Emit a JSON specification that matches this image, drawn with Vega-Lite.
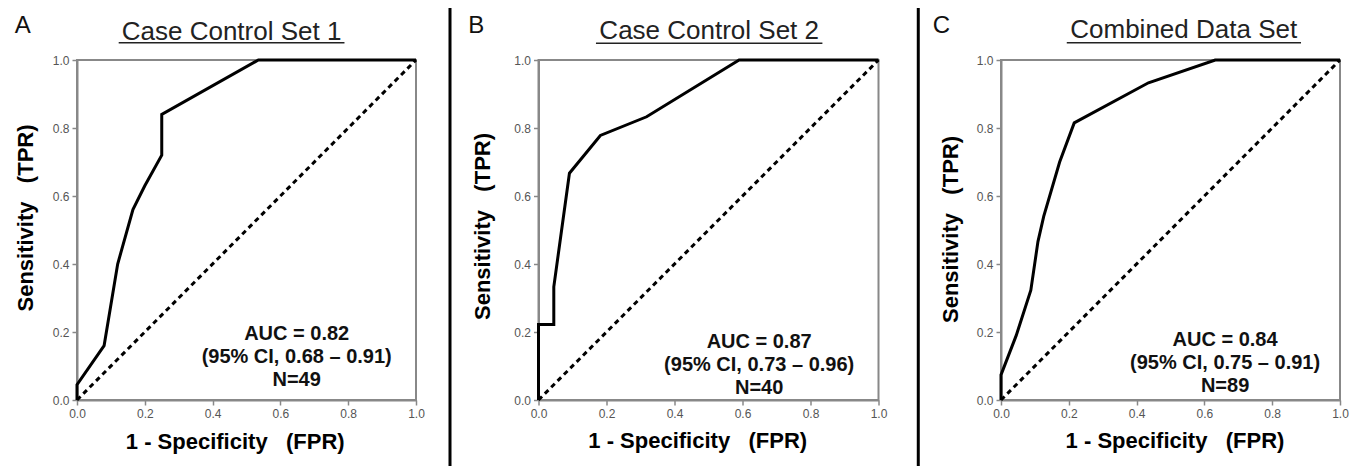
{
  "$schema": "https://vega.github.io/schema/vega-lite/v6.json",
  "background": "white",
  "padding": {"left": 13, "top": 5, "right": 0, "bottom": 0},
  "spacing": 122.5,
  "bounds": "flush",
  "config": {
    "font": "Liberation Sans",
    "view": {"stroke": "#888", "strokeWidth": 2},
    "axis": {"domainColor": "#888", "domainWidth": 2, "tickColor": "#888", "tickWidth": 1.5, "tickSize": 5, "labelFontSize": 12, "labelColor": "#555", "labelFont": "Liberation Sans", "titleFont": "Liberation Sans", "titleFontSize": 22, "titleFontWeight": "bold", "titleColor": "black", "grid": false, "labelPadding": 3, "labelFlush": false, "labelOverlap": false}
  },
  "datasets": {
    "rocA": [
      {"step": 0, "fpr": 0, "tpr": 0}, {"step": 1, "fpr": 0, "tpr": 0.045}, {"step": 2, "fpr": 0.08, "tpr": 0.16}, {"step": 3, "fpr": 0.12, "tpr": 0.4}, {"step": 4, "fpr": 0.165, "tpr": 0.56}, {"step": 5, "fpr": 0.2, "tpr": 0.63}, {"step": 6, "fpr": 0.25, "tpr": 0.72}, {"step": 7, "fpr": 0.25, "tpr": 0.84}, {"step": 8, "fpr": 0.535, "tpr": 1.0}, {"step": 9, "fpr": 1, "tpr": 1}
    ],
    "rocB": [
      {"step": 0, "fpr": 0, "tpr": 0}, {"step": 1, "fpr": 0, "tpr": 0.222}, {"step": 2, "fpr": 0.045, "tpr": 0.222}, {"step": 3, "fpr": 0.045, "tpr": 0.333}, {"step": 4, "fpr": 0.091, "tpr": 0.667}, {"step": 5, "fpr": 0.182, "tpr": 0.778}, {"step": 6, "fpr": 0.318, "tpr": 0.833}, {"step": 7, "fpr": 0.59, "tpr": 1.0}, {"step": 8, "fpr": 1, "tpr": 1}
    ],
    "rocC": [
      {"step": 0, "fpr": 0, "tpr": 0}, {"step": 1, "fpr": 0, "tpr": 0.074}, {"step": 2, "fpr": 0.045, "tpr": 0.19}, {"step": 3, "fpr": 0.088, "tpr": 0.323}, {"step": 4, "fpr": 0.109, "tpr": 0.466}, {"step": 5, "fpr": 0.126, "tpr": 0.54}, {"step": 6, "fpr": 0.173, "tpr": 0.7}, {"step": 7, "fpr": 0.216, "tpr": 0.815}, {"step": 8, "fpr": 0.435, "tpr": 0.933}, {"step": 9, "fpr": 0.632, "tpr": 1.0}, {"step": 10, "fpr": 1, "tpr": 1}
    ]
  },
  "hconcat": [
    {
      "width": 339, "height": 340,
      "layer": [
        {"data": {"name": "rocA"}, "mark": {"type": "line", "color": "black", "strokeWidth": 3},
         "encoding": {
           "x": {"field": "fpr", "type": "quantitative", "scale": {"domain": [0, 1], "nice": false}, "axis": {"values": [0, 0.2, 0.4, 0.6, 0.8, 1], "format": ".1f", "title": "1 - Specificity\u00a0\u00a0\u00a0(FPR)", "titleX": 157.7, "titleY": 48.5, "titleBaseline": "alphabetic", "titleAlign": "center"}},
           "y": {"field": "tpr", "type": "quantitative", "scale": {"domain": [0, 1], "nice": false}, "axis": {"values": [0, 0.2, 0.4, 0.6, 0.8, 1], "format": ".1f", "title": "Sensitivity\u00a0\u00a0\u00a0(TPR)", "titleX": -51.3, "titleY": 157.5, "titleBaseline": "middle", "titleAlign": "center", "titleAngle": -90}},
           "order": {"field": "step"}}},
        {"data": {"values": [{}]}, "mark": {"type": "rule", "color": "black", "strokeWidth": 3, "strokeDash": [5, 4]},
         "encoding": {"x": {"datum": 0}, "y": {"datum": 0}, "x2": {"datum": 1}, "y2": {"datum": 1}}},
        {"data": {"values": [{"label": "AUC = 0.82\n(95% CI, 0.68 \u2013 0.91)\nN=49"}]}, "mark": {"type": "text", "fontSize": 20, "fontWeight": "bold", "lineHeight": 23, "lineBreak": "\n", "align": "center", "baseline": "alphabetic", "color": "#111"},
         "encoding": {"text": {"field": "label"}, "x": {"datum": 0.648}, "y": {"datum": 0.176}}},
        {"data": {"values": [{"title": "Case Control Set 1"}]}, "mark": {"type": "text", "fontSize": 26, "align": "center", "baseline": "alphabetic", "color": "#222"},
         "encoding": {"text": {"field": "title"}, "x": {"datum": 0.456}, "y": {"datum": 1.06}}},
        {"data": {"values": [{}]}, "mark": {"type": "rule", "color": "#222", "strokeWidth": 1.5},
         "encoding": {"x": {"datum": 0.123}, "x2": {"datum": 0.789}, "y": {"datum": 1.051}}},
        {"data": {"values": [{"letter": "A"}]}, "mark": {"type": "text", "fontSize": 24, "align": "center", "baseline": "alphabetic", "color": "#111"},
         "encoding": {"text": {"field": "letter"}, "x": {"datum": -0.16}, "y": {"datum": 1.079}}},
        {"data": {"values": [{}]}, "mark": {"type": "rule", "color": "black", "strokeWidth": 3},
         "encoding": {"x": {"datum": 1.1003}, "y": {"datum": 1.153}, "y2": {"datum": -0.25}}}
      ]
    },
    {
      "width": 340, "height": 340,
      "layer": [
        {"data": {"name": "rocB"}, "mark": {"type": "line", "color": "black", "strokeWidth": 3},
         "encoding": {
           "x": {"field": "fpr", "type": "quantitative", "scale": {"domain": [0, 1], "nice": false}, "axis": {"values": [0, 0.2, 0.4, 0.6, 0.8, 1], "format": ".1f", "title": "1 - Specificity\u00a0\u00a0\u00a0(FPR)", "titleX": 158.7, "titleY": 47.7, "titleBaseline": "alphabetic", "titleAlign": "center"}},
           "y": {"field": "tpr", "type": "quantitative", "scale": {"domain": [0, 1], "nice": false}, "axis": {"values": [0, 0.2, 0.4, 0.6, 0.8, 1], "format": ".1f", "title": "Sensitivity\u00a0\u00a0\u00a0(TPR)", "titleX": -56.3, "titleY": 166, "titleBaseline": "middle", "titleAlign": "center", "titleAngle": -90}},
           "order": {"field": "step"}}},
        {"data": {"values": [{}]}, "mark": {"type": "rule", "color": "black", "strokeWidth": 3, "strokeDash": [5, 4]},
         "encoding": {"x": {"datum": 0}, "y": {"datum": 0}, "x2": {"datum": 1}, "y2": {"datum": 1}}},
        {"data": {"values": [{"label": "AUC = 0.87\n(95% CI, 0.73 \u2013 0.96)\nN=40"}]}, "mark": {"type": "text", "fontSize": 20, "fontWeight": "bold", "lineHeight": 23, "lineBreak": "\n", "align": "center", "baseline": "alphabetic", "color": "#111"},
         "encoding": {"text": {"field": "label"}, "x": {"datum": 0.649}, "y": {"datum": 0.154}}},
        {"data": {"values": [{"title": "Case Control Set 2"}]}, "mark": {"type": "text", "fontSize": 26, "align": "center", "baseline": "alphabetic", "color": "#222"},
         "encoding": {"text": {"field": "title"}, "x": {"datum": 0.502}, "y": {"datum": 1.061}}},
        {"data": {"values": [{}]}, "mark": {"type": "rule", "color": "#222", "strokeWidth": 1.5},
         "encoding": {"x": {"datum": 0.169}, "x2": {"datum": 0.835}, "y": {"datum": 1.049}}},
        {"data": {"values": [{"letter": "B"}]}, "mark": {"type": "text", "fontSize": 24, "align": "center", "baseline": "alphabetic", "color": "#111"},
         "encoding": {"text": {"field": "letter"}, "x": {"datum": -0.183}, "y": {"datum": 1.08}}},
        {"data": {"values": [{}]}, "mark": {"type": "rule", "color": "black", "strokeWidth": 3},
         "encoding": {"x": {"datum": 1.117}, "y": {"datum": 1.153}, "y2": {"datum": -0.25}}}
      ]
    },
    {
      "width": 339, "height": 340,
      "layer": [
        {"data": {"name": "rocC"}, "mark": {"type": "line", "color": "black", "strokeWidth": 3},
         "encoding": {
           "x": {"field": "fpr", "type": "quantitative", "scale": {"domain": [0, 1], "nice": false}, "axis": {"values": [0, 0.2, 0.4, 0.6, 0.8, 1], "format": ".1f", "title": "1 - Specificity\u00a0\u00a0\u00a0(FPR)", "titleX": 173.5, "titleY": 47.7, "titleBaseline": "alphabetic", "titleAlign": "center"}},
           "y": {"field": "tpr", "type": "quantitative", "scale": {"domain": [0, 1], "nice": false}, "axis": {"values": [0, 0.2, 0.4, 0.6, 0.8, 1], "format": ".1f", "title": "Sensitivity\u00a0\u00a0\u00a0(TPR)", "titleX": -50.3, "titleY": 169, "titleBaseline": "middle", "titleAlign": "center", "titleAngle": -90}},
           "order": {"field": "step"}}},
        {"data": {"values": [{}]}, "mark": {"type": "rule", "color": "black", "strokeWidth": 3, "strokeDash": [5, 4]},
         "encoding": {"x": {"datum": 0}, "y": {"datum": 0}, "x2": {"datum": 1}, "y2": {"datum": 1}}},
        {"data": {"values": [{"label": "AUC = 0.84\n(95% CI, 0.75 \u2013 0.91)\nN=89"}]}, "mark": {"type": "text", "fontSize": 20, "fontWeight": "bold", "lineHeight": 23, "lineBreak": "\n", "align": "center", "baseline": "alphabetic", "color": "#111"},
         "encoding": {"text": {"field": "label"}, "x": {"datum": 0.661}, "y": {"datum": 0.159}}},
        {"data": {"values": [{"title": "Combined Data Set"}]}, "mark": {"type": "text", "fontSize": 26, "align": "center", "baseline": "alphabetic", "color": "#222"},
         "encoding": {"text": {"field": "title"}, "x": {"datum": 0.539}, "y": {"datum": 1.064}}},
        {"data": {"values": [{}]}, "mark": {"type": "rule", "color": "#222", "strokeWidth": 1.5},
         "encoding": {"x": {"datum": 0.194}, "x2": {"datum": 0.885}, "y": {"datum": 1.051}}},
        {"data": {"values": [{"letter": "C"}]}, "mark": {"type": "text", "fontSize": 24, "align": "center", "baseline": "alphabetic", "color": "#111"},
         "encoding": {"text": {"field": "letter"}, "x": {"datum": -0.176}, "y": {"datum": 1.08}}}
      ]
    }
  ]
}
